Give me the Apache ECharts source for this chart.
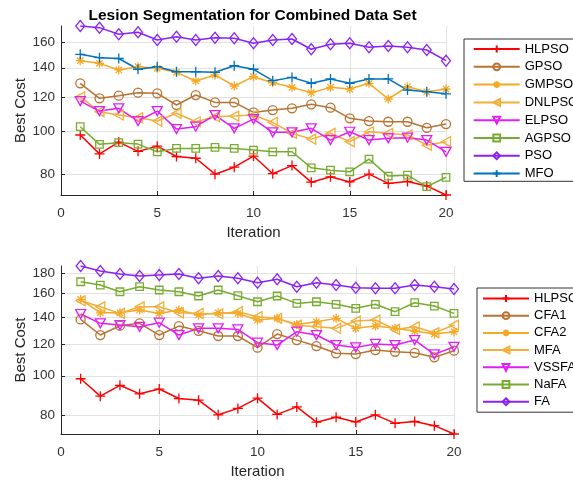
<!DOCTYPE html>
<html>
<head>
<meta charset="utf-8">
<script src="https://cdn.jsdelivr.net/npm/echarts@6/dist/echarts.min.js"></script>
<style>
  html, body { margin: 0; padding: 0; background: #fff; }
  #chart { width: 573px; height: 481px; }
</style>
</head>
<body>
<div id="chart"></div>
<script>
const FONT = 'Liberation Sans, Arial, sans-serif'

const iters = [1, 2, 3, 4, 5, 6, 7, 8, 9, 10, 11, 12, 13, 14, 15, 16, 17, 18, 19, 20]

// top plot
const hlpso = [98.3, 89.0, 94.7, 90.2, 92.7, 87.8, 87.0, 80.0, 83.0, 88.0, 80.2, 83.7, 76.7, 78.9, 76.8, 80.0, 76.2, 77.0, 75.2, 71.7]
const gpso = [129.0, 119.2, 120.9, 122.8, 122.4, 115.1, 121.3, 116.7, 116.7, 110.7, 112.1, 113.1, 115.5, 113.5, 107.3, 105.8, 105.4, 105.4, 102.1, 104.1]
const gmpso = [145.3, 143.3, 138.4, 140.8, 139.6, 136.7, 130.6, 134.8, 127.2, 133.6, 129.4, 126.3, 122.8, 126.3, 125.2, 129.0, 118.8, 126.7, 123.4, 125.2]
const dnlpso = [120.2, 111.1, 109.2, 107.6, 105.8, 110.2, 105.4, 108.2, 108.6, 109.2, 105.0, 99.2, 96.2, 99.2, 94.9, 100.0, 99.2, 98.3, 93.2, 94.9]
const elpso = [117.5, 111.5, 113.1, 105.8, 111.5, 101.4, 102.7, 109.2, 101.8, 106.9, 99.7, 99.7, 101.8, 95.7, 100.0, 95.7, 96.6, 96.9, 95.7, 90.0]
const agpso = [102.7, 93.6, 94.4, 93.7, 90.0, 91.6, 91.6, 92.1, 91.6, 90.8, 90.0, 90.0, 82.7, 81.7, 81.0, 86.6, 79.2, 79.6, 74.9, 78.7]
const pso = [174.4, 172.9, 167.0, 168.7, 162.0, 164.9, 162.0, 164.0, 163.5, 159.3, 162.0, 162.9, 154.3, 158.4, 159.3, 155.9, 157.0, 155.9, 153.7, 145.3]
const mfo = [150.3, 147.6, 147.0, 138.9, 140.8, 137.1, 137.1, 136.7, 141.5, 138.9, 130.8, 133.1, 129.0, 132.0, 129.0, 132.0, 132.0, 124.5, 123.4, 122.1]

// bottom plot
const cfa1 = [138.0, 126.2, 133.1, 134.9, 126.2, 132.8, 129.3, 125.5, 125.5, 117.4, 126.9, 122.6, 118.5, 113.7, 113.2, 115.8, 114.7, 114.0, 111.1, 115.4]
const cfa2 = [154.7, 143.3, 143.3, 145.6, 142.8, 145.6, 141.5, 143.3, 142.8, 137.5, 138.8, 134.1, 136.1, 138.8, 131.1, 132.8, 131.1, 129.1, 126.9, 128.6]
const mfa = [153.5, 148.3, 142.8, 148.3, 148.3, 143.3, 142.8, 142.5, 144.2, 140.1, 138.8, 133.5, 132.3, 131.1, 136.7, 137.5, 130.3, 132.3, 127.9, 133.6]
const vssfa = [142.3, 134.9, 133.6, 132.3, 135.4, 126.2, 131.1, 131.1, 130.3, 120.8, 119.2, 128.6, 126.2, 119.2, 117.6, 119.9, 119.2, 122.6, 113.0, 118.0]
const nafa = [171.1, 167.9, 161.6, 166.3, 163.2, 161.6, 157.7, 163.2, 158.0, 152.6, 157.7, 151.2, 152.6, 150.4, 147.0, 150.4, 144.2, 151.8, 148.9, 142.8]
const fa = [187.2, 181.9, 178.8, 176.8, 177.8, 178.8, 174.5, 176.8, 174.5, 170.1, 173.5, 166.3, 170.1, 167.9, 165.4, 164.8, 164.8, 167.9, 166.3, 164.1]

const yTicksTop = [80, 100, 120, 140, 160]
const yTicksBottom = [80, 100, 120, 140, 160, 180]

const topNames = ['HLPSO', 'GPSO', 'GMPSO', 'DNLPSO', 'ELPSO', 'AGPSO', 'PSO', 'MFO']
const bottomNames = ['HLPSO', 'CFA1', 'CFA2', 'MFA', 'VSSFA', 'NaFA', 'FA']

// matlab-like markers
const PLUS = 'path://M0,-1V1M-1,0H1'
const STAR = 'path://M0,-1V1M-1,0H1M-0.7,-0.7L0.7,0.7M-0.7,0.7L0.7,-0.7'
const TRI_DOWN = 'path://M-1,-0.9L1,-0.9L0,0.9Z'
const TRI_LEFT = 'path://M0.9,-1L-0.9,0L0.9,1Z'

const RED = '#ff0000', BROWN = '#b87333', ORANGE = '#f7a823', ORANGE2 = '#f2ae3a'
const MAGENTA = '#e21ef5', GREEN = '#77ac30', PURPLE = '#8b22f2', BLUE = '#0072bd'

// y axis is logarithmic: values are plotted as ln(v)
function line(name, values, color, symbol, size, idx) {
  return {
    name: name,
    type: 'line',
    xAxisIndex: idx,
    yAxisIndex: idx,
    data: values.map((v, i) => [iters[i], Math.log(v)]),
    symbol: symbol,
    symbolSize: size,
    showAllSymbol: true,
    clip: false,
    animation: false,
    lineStyle: {color: color, width: 1.5},
    itemStyle: {color: 'rgba(255,255,255,0)', borderColor: color, borderWidth: 1.3},
    emphasis: {disabled: true}
  }
}

function xAxisFor(idx) {
  return {
    type: 'value', gridIndex: idx, min: 0, max: 20, interval: 5,
    name: 'Iteration', nameLocation: 'middle', nameGap: 30,
    nameTextStyle: {fontSize: 15, color: '#262626', fontFamily: FONT},
    axisLine: {show: true, onZero: false, lineStyle: {color: '#262626', width: 1}},
    axisTick: {show: true, inside: true, length: 4, lineStyle: {color: '#262626'}},
    axisLabel: {fontSize: 13.5, color: '#333', margin: 11, fontFamily: FONT, showMinLabel: true, showMaxLabel: true},
    splitLine: {show: true, lineStyle: {color: '#e2e2e2', width: 1}}
  }
}

function yAxisFor(idx, ticks) {
  let logTicks = ticks.map(t => Math.log(t))
  return {
    type: 'value', gridIndex: idx, min: 'dataMin', max: 'dataMax',
    name: 'Best Cost', nameLocation: 'middle', nameGap: 33, nameMoveOverlap: false,
    nameTextStyle: {fontSize: 15, color: '#262626', fontFamily: FONT},
    axisLine: {show: true, onZero: false, lineStyle: {color: '#262626', width: 1}},
    axisTick: {show: true, inside: true, length: 4, customValues: logTicks, lineStyle: {color: '#262626'}},
    axisLabel: {
      customValues: logTicks,
      formatter: v => String(Math.round(Math.exp(v))),
      fontSize: 13.5, color: '#333', margin: 6, fontFamily: FONT
    },
    splitLine: {show: true, lineStyle: {color: '#e2e2e2', width: 1}}
  }
}

function legendFor(names, left, top, gap, padding) {
  return {
    data: names, orient: 'vertical', left: left, top: top,
    itemWidth: 46, itemHeight: 8.5, itemGap: gap, padding: padding,
    borderColor: '#333', borderWidth: 1, backgroundColor: '#fff',
    selectedMode: false,
    textStyle: {fontSize: 13, color: '#000', fontFamily: FONT}
  }
}

let myChart = echarts.init(document.getElementById('chart'), null, {renderer: 'canvas'})
myChart.setOption({
  animation: false,
  backgroundColor: '#fff',
  title: {
    text: 'Lesion Segmentation for Combined Data Set',
    left: 252.5, top: 8, textAlign: 'center', padding: 0,
    textStyle: {fontSize: 15.5, fontWeight: 'bold', color: '#000', fontFamily: FONT}
  },
  grid: [
    {left: 61, top: 26, width: 385, height: 169, outerBoundsMode: 'none'},
    {left: 61, top: 266, width: 393, height: 168, outerBoundsMode: 'none'}
  ],
  xAxis: [xAxisFor(0), xAxisFor(1)],
  yAxis: [yAxisFor(0, yTicksTop), yAxisFor(1, yTicksBottom)],
  legend: [
    legendFor(topNames, 464, 39, 4.8, [3.5, 8, 1.2, 8.7]),
    legendFor(bottomNames, 477, 288, 4.2, [4, 8, 4, 5])
  ],
  series: [
    line('HLPSO', hlpso, RED, PLUS, 10, 0),
    line('GPSO', gpso, BROWN, 'circle', 9, 0),
    line('GMPSO', gmpso, ORANGE, STAR, 9, 0),
    line('DNLPSO', dnlpso, ORANGE2, TRI_LEFT, [9, 10], 0),
    line('ELPSO', elpso, MAGENTA, TRI_DOWN, [10, 9], 0),
    line('AGPSO', agpso, GREEN, 'rect', 7.5, 0),
    line('PSO', pso, PURPLE, 'diamond', [9, 11], 0),
    line('MFO', mfo, BLUE, PLUS, 10, 0),
    line('HLPSO', hlpso, RED, PLUS, 10, 1),
    line('CFA1', cfa1, BROWN, 'circle', 9, 1),
    line('CFA2', cfa2, ORANGE, STAR, 9, 1),
    line('MFA', mfa, ORANGE2, TRI_LEFT, [9, 10], 1),
    line('VSSFA', vssfa, MAGENTA, TRI_DOWN, [10, 9], 1),
    line('NaFA', nafa, GREEN, 'rect', 7.5, 1),
    line('FA', fa, PURPLE, 'diamond', [9, 11], 1)
  ]
})
</script>
</body>
</html>
